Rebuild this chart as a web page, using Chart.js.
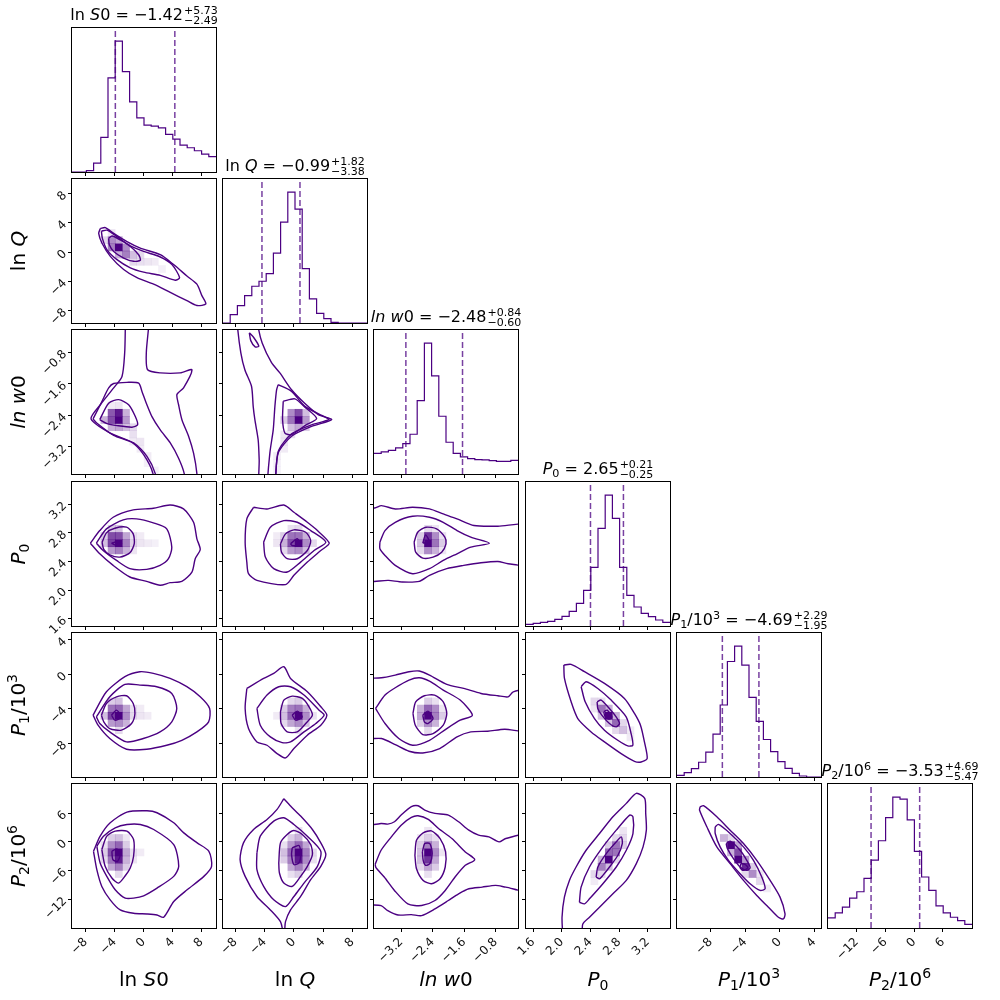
<!DOCTYPE html>
<html>
<head>
<meta charset="utf-8">
<script src="https://cdn.jsdelivr.net/npm/chart.js@4.4.1/dist/chart.umd.min.js"></script>
<style>
html, body { margin: 0; padding: 0; background: #fff; }
#fig { position: relative; width: 1000px; height: 1000px; overflow: hidden; font-family: 'DejaVu Sans', sans-serif; color: #000; }
#fig canvas { position: absolute; }
.ttl { position: absolute; white-space: nowrap; font-size: 16px; line-height: 16px; transform: translateX(-50%); }
.lab { position: absolute; white-space: nowrap; font-size: 20px; line-height: 20px; }
.xlab { transform: translateX(-50%); }
.ylab { transform: translate(-50%, -50%) rotate(-90deg); }
.ttl sub, .ttl sup, .lab sub, .lab sup { font-size: 70%; line-height: 0; vertical-align: baseline; position: relative; }
.ttl sub, .lab sub { top: 0.3em; }
.ttl sup, .lab sup { top: -0.55em; }
.ss { display: inline-block; font-size: 11px; line-height: 10px; vertical-align: baseline; position: relative; top: 4px; margin-left: 1px; }
.ss span { display: block; }
</style>
</head>
<body>
<div id="fig"></div>
<script>
// parameters: ln S0, ln Q, ln w0, P0, P1/1e3, P2/1e6
const varMin = [-9.9, -9.7, -3.89, 1.5, -11.9, -18.0];
const varMax = [10.0, 10.0, -0.23, 3.51, 4.8, 12.1];
const tickVals = [
  [-8, -4, 0, 4, 8],
  [-8, -4, 0, 4, 8],
  [-3.2, -2.4, -1.6, -0.8],
  [1.6, 2.0, 2.4, 2.8, 3.2],
  [-8, -4, 0, 4],
  [-12, -6, 0, 6]
];
const tickDec = [0, 0, 1, 1, 0, 0];
const labelHtml = ['ln <i>S</i>0', 'ln <i>Q</i>', '<i>ln w</i>0', '<i>P</i><sub>0</sub>',
  '<i>P</i><sub>1</sub>/10<sup>3</sup>', '<i>P</i><sub>2</sub>/10<sup>6</sup>'];

const medians = [-1.42, -0.99, -2.48, 2.65, -4.69, -3.53];
const errUp = [5.73, 1.82, 0.84, 0.21, 2.29, 4.69];
const errDown = [2.49, 3.38, 0.60, 0.25, 1.95, 5.47];

// 1D histograms, 20 bins over each axis range
const hist_S0 = [0, 0, 4, 27, 104, 283, 394, 302, 211, 163, 141, 138, 133, 113, 99, 81, 73, 64, 54, 46];
const hist_Q = [0, 25, 52, 82, 110, 125, 148, 209, 302, 392, 341, 163, 72, 29, 13, 2, 0, 0, 0, 0];
const hist_w0 = [62, 66, 71, 78, 91, 119, 220, 392, 294, 173, 95, 62, 51, 46, 43, 42, 40, 38, 38, 41];
const hist_P0 = [5, 8, 11, 14, 20, 29, 44, 68, 107, 176, 293, 393, 323, 176, 92, 57, 38, 28, 18, 11];
const hist_P1 = [5, 13, 25, 44, 74, 128, 215, 345, 391, 334, 238, 166, 112, 76, 46, 26, 11, 3, 0, 0];
const hist_P2 = [30, 45, 62, 89, 108, 148, 202, 260, 329, 390, 384, 322, 228, 152, 112, 66, 45, 32, 22, 11];

// 2D density cells [xbin, ybin, level] and contour outlines [[x, y], ...]
const cells_10 = [[6,10,1],[5,10,0.5],[5,11,0.45],[6,11,0.35],[7,10,0.45],[7,9,0.5],[6,9,0.3],[8,9,0.25],[9,9,0.15],[8,8,0.15],[9,8,0.12],[10,8,0.1],[11,8,0.08],[12,7,0.06],[4,11,0.15],[5,12,0.1]];
const cont_10 = [
  [[-5.98,3.23],[-5.29,3.36],[-4.14,2.56],[-2.30,1.43],[-0.46,0.54],[2.30,-0.36],[4.14,-1.70],[5.98,-3.27],[7.36,-4.39],[8.05,-5.96],[8.60,-7.09],[7.36,-7.31],[5.98,-6.64],[3.68,-5.52],[1.38,-4.39],[-0.92,-3.50],[-2.76,-2.38],[-4.60,-0.58],[-5.75,1.21],[-6.21,2.56]],
  [[-5.84,2.87],[-5.06,3.00],[-3.68,2.11],[-1.84,0.85],[0,0.09],[2.30,-0.67],[3.91,-1.70],[4.97,-3.50],[4.37,-3.86],[2.30,-3.18],[0,-2.74],[-1.84,-2.15],[-3.68,-1.03],[-5.06,0.31],[-5.70,1.88]],
  [[-4.83,1.88],[-4.37,2.20],[-3.22,1.66],[-1.84,0.76],[-0.69,-0.36],[-0.46,-1.12],[-1.38,-1.26],[-2.76,-0.81],[-4.14,0.09],[-4.74,0.99]]
];

const cells_20 = [[6,7,1],[6,8,0.9],[5,7,0.7],[5,8,0.65],[7,7,0.4],[7,8,0.3],[4,7,0.3],[6,6,0.35],[5,6,0.3],[7,6,0.25],[8,6,0.15],[8,5,0.12],[9,4,0.1],[9,3,0.08],[10,2,0.08],[10,1,0.06],[11,0,0.06],[8,4,0.08],[6,9,0.1],[5,9,0.08]];
const cont_20 = [
  [[-2.53,0.1],[-2.53,-0.14],[-2.62,-0.81],[-2.99,-1.41],[-4.14,-1.70],[-5.98,-2.13],[-7.26,-2.49],[-4.60,-2.85],[-1.38,-3.10],[0.46,-3.44],[1.61,-3.88],[1.8,-4.3],[7.4,-4.3],[7.36,-3.88],[6.90,-3.36],[6.21,-2.93],[5.29,-2.51],[4.83,-2.13],[4.60,-1.87],[5.52,-1.70],[6.67,-1.24],[5.06,-1.32],[2.30,-1.32],[0.55,-1.24],[0.37,-0.81],[0.69,-0.14],[0.69,0.1]],
  [[-6.99,-2.49],[-5.75,-2.04],[-4.83,-1.70],[-4.14,-1.59],[-2.30,-1.56],[-0.69,-1.58],[-0.23,-1.79],[0.37,-2.09],[1.15,-2.43],[2.30,-2.77],[3.68,-3.10],[4.83,-3.49],[5.61,-3.88],[5.8,-4.3],[1.3,-4.3],[1.29,-3.88],[0,-3.40],[-1.61,-3.09],[-4.14,-2.91],[-6.44,-2.60]],
  [[-6.07,-2.51],[-4.83,-2.09],[-3.45,-2.00],[-2.07,-2.13],[-1.15,-2.43],[-0.83,-2.64],[-1.61,-2.70],[-3.68,-2.66],[-5.06,-2.61]]
];

const cells_21 = [[10,7,1],[10,8,0.7],[9,7,0.55],[9,8,0.45],[11,7,0.4],[10,6,0.35],[9,6,0.25],[11,8,0.25],[11,6,0.2],[8,7,0.2],[9,5,0.12],[8,5,0.1],[8,4,0.1],[8,3,0.08],[7,2,0.08],[7,1,0.06],[7,0,0.06]];
const cont_21 = [
  [[-7.72,0.1],[-7.72,-0.14],[-7.26,-0.81],[-6.71,-1.24],[-5.80,-1.66],[-5.57,-2.17],[-5.34,-2.51],[-4.89,-3.02],[-4.75,-3.53],[-4.66,-4.3],[-2.83,-4.3],[-2.15,-3.36],[-0.32,-2.93],[2.42,-2.68],[5.16,-2.51],[3.33,-2.38],[1.51,-2.10],[-0.32,-1.75],[-1.92,-1.32],[-3.06,-1.06],[-4.34,-0.56],[-4.89,-0.14],[-4.89,0.1]],
  [[-2.15,-1.62],[-0.32,-1.79],[1.51,-2.17],[4.25,-2.44],[4.79,-2.51],[2.42,-2.64],[-0.32,-2.87],[-2.15,-3.32],[-2.70,-4.3],[-3.60,-4.3],[-3.29,-3.36],[-2.83,-2.77],[-2.60,-2.17],[-2.37,-1.75]],
  [[-1.46,-2.04],[0.14,-1.98],[1.51,-2.19],[3.11,-2.48],[1.51,-2.66],[-0.32,-2.89],[-1.23,-2.85],[-1.55,-2.51]],
  [[-6.1,-0.30],[-5.5,-0.42],[-4.8,-0.64],[-5.3,-0.66],[-5.9,-0.50]]
];

const cells_30 = [[6,11,1],[5,11,0.75],[5,12,0.7],[6,12,0.7],[7,11,0.5],[7,12,0.35],[6,10,0.5],[5,10,0.4],[7,10,0.3],[4,11,0.25],[4,12,0.2],[6,13,0.25],[5,13,0.2],[8,11,0.18],[8,12,0.12],[9,11,0.1],[10,11,0.08],[8,10,0.1],[9,12,0.08],[11,11,0.06]];
const cont_30 = [
  [[-7.36,2.656],[-6.06,2.832],[-4.21,3.018],[-1.44,3.12],[1.34,3.143],[3.66,3.189],[5.51,3.134],[6.90,2.948],[7.36,2.717],[7.82,2.568],[7.13,2.439],[6.67,2.253],[5.28,2.123],[3.66,2.105],[2.27,2.068],[0.42,2.123],[-1.90,2.184],[-4.21,2.346],[-6.06,2.508]],
  [[-6.53,2.656],[-5.14,2.856],[-2.82,2.981],[-0.97,2.995],[1.34,2.939],[3.19,2.856],[3.89,2.60],[3.43,2.439],[2.27,2.346],[0.42,2.29],[-1.90,2.30],[-3.75,2.415],[-5.60,2.554]],
  [[-5.74,2.67],[-5.14,2.80],[-3.98,2.865],[-2.36,2.879],[-1.44,2.786],[-1.30,2.647],[-1.90,2.522],[-3.29,2.462],[-4.68,2.494],[-5.51,2.568]],
  [[-4.44,2.656],[-3.52,2.68],[-3.06,2.647],[-3.98,2.633]]
];

const cells_31 = [[10,11,1],[9,11,0.7],[9,12,0.55],[10,12,0.55],[11,11,0.45],[9,10,0.4],[10,10,0.45],[11,12,0.3],[8,11,0.3],[8,12,0.2],[11,10,0.25],[8,10,0.15],[12,11,0.15],[10,13,0.15],[9,13,0.12],[7,11,0.1],[7,12,0.08]];
const cont_31 = [
  [[-5.52,3.157],[-3.68,3.134],[-1.38,3.189],[0,3.087],[1.84,2.948],[3.22,2.832],[4.83,2.656],[3.68,2.554],[1.84,2.392],[0,2.207],[-1.15,2.077],[-5.06,2.137],[-6.21,2.230],[-6.44,2.392],[-6.67,2.670],[-6.44,2.995]],
  [[-4.14,2.670],[-3.22,2.879],[-1.38,2.971],[0.46,2.948],[2.30,2.832],[4.37,2.670],[2.76,2.554],[0.92,2.392],[-0.92,2.253],[-2.76,2.30],[-3.91,2.462]],
  [[-1.84,2.647],[-1.15,2.786],[0,2.842],[1.61,2.809],[2.30,2.693],[1.84,2.554],[0.46,2.439],[-0.92,2.439],[-1.70,2.531]],
  [[-0.46,2.647],[0.46,2.717],[0.92,2.624],[-0.23,2.624]]
];

const cells_32 = [[7,11,1],[7,12,0.8],[8,11,0.55],[8,12,0.45],[7,10,0.45],[8,10,0.3],[6,11,0.25],[6,12,0.2],[9,11,0.2],[9,12,0.12],[7,13,0.15],[6,10,0.15],[9,10,0.1],[8,13,0.1]];
const cont_32 = [
  [[-4.2,3.15],[-3.87,3.148],[-3.70,3.18],[-3.35,3.134],[-2.91,3.157],[-2.48,3.134],[-2.13,3.064],[-1.78,2.995],[-1.35,2.902],[-0.74,2.893],[0.1,2.902],[0.1,2.36],[-0.48,2.369],[-0.74,2.401],[-1.17,2.383],[-1.61,2.346],[-2.04,2.30],[-2.48,2.207],[-2.74,2.123],[-3.17,2.114],[-3.52,2.137],[-4.2,2.151]],
  [[-3.74,2.670],[-3.61,2.832],[-3.35,2.948],[-2.91,3.032],[-2.48,3.018],[-2.13,2.948],[-1.78,2.832],[-1.43,2.74],[-0.96,2.656],[-1.43,2.60],[-1.78,2.508],[-2.13,2.415],[-2.48,2.30],[-2.91,2.23],[-3.35,2.346],[-3.61,2.485],[-3.74,2.578]],
  [[-2.87,2.670],[-2.78,2.809],[-2.57,2.879],[-2.30,2.856],[-2.09,2.74],[-2.06,2.647],[-2.17,2.531],[-2.39,2.462],[-2.65,2.448],[-2.83,2.531]],
  [[-2.65,2.656],[-2.58,2.772],[-2.48,2.670]]
];

const cells_40 = [[6,8,1],[5,8,0.75],[6,9,0.6],[5,9,0.55],[7,8,0.45],[6,7,0.45],[5,7,0.4],[7,9,0.35],[7,7,0.3],[4,8,0.25],[6,10,0.25],[5,10,0.2],[8,8,0.15],[8,9,0.12],[6,6,0.15],[9,8,0.1],[10,8,0.08],[9,9,0.08]];
const cont_40 = [
  [[-6.99,-4.73],[-5.14,-2.02],[-2.59,-0.27],[-0.51,0.31],[1.34,0.12],[3.66,-0.47],[5.97,-1.43],[7.82,-2.60],[9.12,-3.95],[8.98,-5.50],[7.36,-6.67],[5.28,-7.64],[3.19,-8.22],[0.42,-8.68],[-2.36,-8.68],[-4.68,-7.44],[-6.30,-5.89]],
  [[-6.53,-4.92],[-4.68,-2.60],[-2.59,-1.16],[-0.51,-1.24],[1.81,-1.43],[3.89,-2.21],[4.58,-3.95],[3.89,-5.50],[2.27,-6.67],[-0.05,-7.44],[-2.36,-7.83],[-4.68,-6.67],[-6.06,-5.70]],
  [[-5.83,-4.73],[-5.14,-3.37],[-3.75,-2.60],[-2.36,-2.48],[-1.44,-3.37],[-1.20,-4.53],[-1.67,-5.70],[-3.06,-6.47],[-4.68,-6.28],[-5.51,-5.50]],
  [[-4.44,-4.73],[-3.75,-4.15],[-3.06,-4.92],[-3.98,-5.31]]
];

const cells_41 = [[10,8,1],[9,8,0.6],[10,9,0.55],[9,9,0.5],[11,8,0.45],[10,7,0.45],[9,7,0.35],[11,9,0.3],[11,7,0.25],[8,8,0.25],[8,9,0.2],[10,10,0.2],[9,10,0.15],[8,7,0.15],[12,8,0.12],[10,6,0.12],[7,8,0.08]];
const cont_41 = [
  [[-6.44,-1.63],[-4.14,-0.47],[-2.76,0.12],[-1.38,0.89],[-0.46,-0.47],[1.84,-2.02],[3.68,-3.76],[4.51,-4.73],[3.68,-5.89],[1.84,-7.05],[0,-8.60],[-1.15,-9.69],[-2.30,-9.19],[-3.68,-8.22],[-5.06,-7.83],[-6.21,-6.28],[-6.67,-3.95]],
  [[-5.06,-3.95],[-3.68,-2.40],[-2.07,-1.43],[-0.46,-1.43],[1.38,-2.40],[3.45,-4.15],[4.14,-4.73],[2.99,-5.70],[1.38,-6.67],[-0.46,-7.83],[-1.61,-7.91],[-3.22,-7.25],[-4.60,-5.89]],
  [[-1.84,-4.34],[-1.38,-2.98],[-0.23,-2.52],[1.15,-2.79],[2.07,-3.76],[2.53,-4.73],[1.61,-5.70],[0.46,-6.67],[-0.92,-6.67],[-1.75,-5.70]],
  [[-0.23,-4.73],[0.46,-4.26],[1.15,-4.92],[0.23,-5.31]]
];

const cells_42 = [[7,8,1],[7,9,0.6],[8,8,0.5],[8,9,0.45],[7,7,0.45],[6,8,0.35],[8,7,0.3],[6,9,0.3],[7,10,0.2],[9,8,0.2],[6,7,0.2],[8,10,0.12],[7,6,0.15],[9,9,0.1]];
const cont_42 = [
  [[-4.2,-0.47],[-3.70,-0.39],[-3.35,-0.08],[-3.0,0.31],[-2.74,0.39],[-2.48,-0.08],[-2.04,-1.16],[-1.61,-1.63],[-1.17,-2.21],[-0.74,-2.48],[-0.48,-2.60],[-0.35,-2.02],[0.1,-1.82],[0.1,-6.47],[-0.57,-6.36],[-1.0,-6.59],[-1.43,-6.67],[-1.78,-7.25],[-2.22,-8.60],[-2.65,-9.11],[-3.0,-8.91],[-3.35,-8.14],[-3.70,-7.44],[-4.2,-7.25]],
  [[-3.85,-3.95],[-3.61,-2.40],[-3.35,-1.55],[-3.0,-0.66],[-2.74,-0.39],[-2.48,-0.78],[-2.13,-1.82],[-1.70,-2.98],[-1.39,-4.73],[-1.70,-5.31],[-2.04,-6.28],[-2.48,-7.64],[-2.91,-8.22],[-3.26,-7.44],[-3.61,-5.70]],
  [[-2.90,-4.53],[-2.83,-3.18],[-2.61,-2.48],[-2.35,-2.40],[-2.13,-3.18],[-2.04,-4.53],[-2.13,-5.89],[-2.39,-6.86],[-2.65,-6.98],[-2.84,-5.89]],
  [[-2.65,-4.73],[-2.52,-4.26],[-2.39,-5.12],[-2.52,-5.70],[-2.61,-5.50]]
];

const cells_43 = [[11,8,1],[10,9,0.55],[12,7,0.6],[11,9,0.3],[12,8,0.3],[10,8,0.25],[11,7,0.25],[13,6,0.25],[13,7,0.15],[12,6,0.15],[9,10,0.15],[10,10,0.12],[9,9,0.1],[14,5,0.08],[14,6,0.08]];
const cont_43 = [
  [[2.028,1.09],[2.130,1.16],[2.316,0.31],[2.595,-1.05],[2.874,-2.79],[3.014,-4.53],[3.098,-5.89],[3.153,-7.83],[3.191,-9.77],[3.107,-10.16],[3.014,-10.08],[2.828,-9.19],[2.595,-7.83],[2.409,-6.67],[2.223,-5.12],[2.130,-3.18],[2.037,-0.47]],
  [[2.270,-1.43],[2.340,-0.85],[2.502,-1.63],[2.688,-2.98],[2.898,-4.92],[2.967,-6.86],[2.991,-8.22],[2.921,-8.29],[2.781,-7.64],[2.595,-6.47],[2.456,-5.12],[2.326,-3.18]],
  [[2.493,-3.18],[2.549,-2.98],[2.642,-3.76],[2.758,-4.92],[2.805,-5.70],[2.758,-6.09],[2.665,-5.70],[2.558,-4.73],[2.502,-3.95]],
  [[2.586,-4.34],[2.633,-4.15],[2.698,-4.92],[2.665,-5.19],[2.605,-4.92]]
];

const cells_50 = [[6,10,1],[6,9,0.9],[6,11,0.6],[5,10,0.7],[5,9,0.55],[5,11,0.45],[6,8,0.5],[5,8,0.35],[7,10,0.35],[7,9,0.3],[4,10,0.2],[7,11,0.2],[6,12,0.25],[5,12,0.2],[7,8,0.2],[6,7,0.15],[4,9,0.15],[8,10,0.12],[8,9,0.1],[9,10,0.08],[4,11,0.12],[7,12,0.1]];
const cont_50 = [
  [[-6.93,-1.96],[-6.01,1.19],[-4.62,3.99],[-2.31,6.23],[0.46,6.51],[1.85,6.09],[4.16,3.99],[5.55,1.89],[7.40,-0.21],[9.02,-1.96],[9.39,-5.11],[8.32,-7.21],[6.01,-10.01],[4.16,-12.46],[2.77,-15.76],[1.85,-15.27],[0.46,-15.06],[-1.39,-14.92],[-3.24,-14.22],[-4.62,-12.11],[-5.78,-9.31],[-6.47,-5.81]],
  [[-6.47,-0.91],[-5.55,1.19],[-3.93,2.94],[-2.31,3.64],[-0.46,3.64],[1.39,2.59],[4.16,-0.56],[4.85,-5.11],[4.16,-7.21],[1.85,-9.66],[0,-11.27],[-1.39,-11.76],[-2.54,-11.76],[-3.93,-10.01],[-5.09,-7.21],[-6.01,-4.41]],
  [[-5.78,-1.61],[-5.09,1.19],[-3.93,2.24],[-2.31,2.24],[-1.39,0.49],[-1.39,-3.01],[-1.85,-5.46],[-2.54,-7.07],[-3.47,-8.61],[-4.39,-7.56],[-5.32,-5.11]],
  [[-4.39,-1.96],[-3.70,-1.47],[-3.24,-2.66],[-3.61,-4.06],[-4.25,-3.71]]
];

const cells_51 = [[10,10,1],[10,9,0.9],[10,11,0.6],[9,10,0.6],[9,9,0.5],[11,10,0.5],[11,9,0.45],[9,11,0.4],[11,11,0.35],[10,8,0.5],[9,8,0.35],[11,8,0.3],[10,12,0.3],[9,12,0.2],[8,10,0.25],[8,9,0.2],[12,10,0.15],[10,7,0.2],[8,11,0.12],[10,13,0.12],[12,9,0.12],[9,7,0.12]];
const cont_51 = [
  [[-1.38,9.03],[-0.46,7.49],[0.92,5.39],[2.53,2.59],[3.68,-0.21],[4.37,-2.66],[3.68,-5.11],[2.30,-7.91],[0.92,-11.41],[-0.46,-14.22],[-1.15,-16.67],[-1.29,-18.8],[-1.47,-18.8],[-1.84,-16.67],[-3.22,-14.22],[-5.06,-11.41],[-6.67,-7.21],[-7.36,-3.71],[-6.90,-0.21],[-5.52,2.59],[-3.68,4.69],[-2.30,6.79]],
  [[-5.06,-2.31],[-4.60,1.19],[-2.76,4.34],[-1.38,5.04],[0,3.64],[1.84,1.19],[3.68,-1.96],[3.22,-5.11],[1.38,-8.61],[0,-11.41],[-1.15,-13.52],[-2.76,-12.11],[-4.14,-9.31],[-5.06,-5.81]],
  [[-2.07,-4.41],[-1.84,-0.21],[-0.92,1.54],[0,2.38],[1.15,1.54],[2.30,-0.56],[2.53,-2.66],[1.84,-5.11],[0.92,-7.21],[-0.23,-9.31],[-1.38,-8.61],[-1.98,-6.51]],
  [[-0.23,-1.26],[0.69,-0.77],[0.92,-2.66],[0.69,-4.41],[0,-4.76],[-0.32,-2.66]]
];

const cells_52 = [[7,10,1],[7,9,0.8],[7,11,0.5],[8,10,0.45],[8,11,0.3],[8,9,0.35],[7,8,0.35],[6,10,0.25],[6,9,0.25],[8,8,0.2],[6,11,0.2],[7,12,0.2],[6,8,0.15],[7,7,0.12],[8,12,0.12],[9,10,0.1],[6,12,0.1],[7,13,0.1]];
const cont_52 = [
  [[-4.2,3.15],[-3.71,3.85],[-3.54,3.71],[-3.37,4.20],[-3.20,5.60],[-2.94,7.35],[-2.77,7.56],[-2.60,6.65],[-2.34,5.95],[-2.0,5.60],[-1.74,4.20],[-1.48,2.45],[-1.23,1.40],[-0.97,1.05],[-0.71,0],[-0.54,0.70],[0.1,1.40],[0.1,-10.15],[-0.54,-9.45],[-0.80,-9.10],[-1.14,-9.45],[-1.48,-9.80],[-1.74,-10.85],[-2.0,-12.25],[-2.34,-14.01],[-2.68,-15.41],[-2.94,-15.20],[-3.28,-15.27],[-3.54,-14.36],[-3.71,-13.31],[-4.2,-12.61]],
  [[-3.86,-4.7],[-3.71,-1.75],[-3.45,1.05],[-3.20,3.50],[-2.94,5.11],[-2.77,5.46],[-2.51,4.69],[-2.25,2.80],[-1.91,0.70],[-1.57,-2.10],[-1.33,-3.71],[-1.57,-4.90],[-1.83,-7.35],[-2.08,-10.15],[-2.34,-12.25],[-2.68,-13.31],[-3.03,-12.96],[-3.37,-10.15],[-3.63,-7.35],[-3.84,-5.39]],
  [[-2.85,-2.80],[-2.81,0.35],[-2.64,1.89],[-2.43,2.31],[-2.21,0.70],[-2.07,-2.10],[-2.08,-5.25],[-2.21,-7.70],[-2.43,-8.75],[-2.64,-8.05],[-2.81,-5.60]],
  [[-2.66,-2.10],[-2.60,-0.35],[-2.47,-0.35],[-2.41,-2.45],[-2.47,-4.55],[-2.58,-4.90],[-2.64,-3.85]]
];

const cells_53 = [[11,9,1],[12,10,0.55],[11,10,0.6],[12,11,0.55],[10,8,0.5],[10,9,0.3],[11,8,0.25],[13,11,0.2],[12,12,0.15],[13,12,0.15],[9,7,0.15],[10,7,0.15],[9,6,0.08],[13,13,0.1],[12,9,0.15],[11,11,0.2]];
const cont_53 = [
  [[2.012,-19.3],[2.003,-15.76],[2.036,-11.55],[2.106,-8.05],[2.199,-5.25],[2.339,-1.75],[2.526,1.75],[2.713,5.25],[2.900,8.05],[3.040,10.15],[3.157,9.10],[3.171,5.95],[3.180,2.45],[3.134,-1.05],[3.040,-4.55],[2.900,-8.05],[2.713,-10.85],[2.526,-13.66],[2.386,-15.76],[2.293,-17.16],[2.269,-19.3]],
  [[2.246,-12.61],[2.269,-9.45],[2.386,-5.25],[2.573,-1.05],[2.760,2.45],[2.947,5.60],[2.993,5.25],[2.993,1.75],[2.900,-1.75],[2.760,-5.25],[2.573,-8.75],[2.386,-11.90],[2.316,-12.96]],
  [[2.479,-7.35],[2.503,-5.25],[2.620,-2.45],[2.760,0],[2.830,1.05],[2.844,-0.35],[2.783,-2.80],[2.666,-5.25],[2.573,-7.0],[2.526,-7.70]]
];

const cells_54 = [[7,11,1],[8,10,0.7],[8,9,1],[9,8,0.85],[9,9,0.4],[8,11,0.35],[10,7,0.45],[7,10,0.3],[6,12,0.3],[7,12,0.15],[10,8,0.2],[11,6,0.15],[9,7,0.15],[11,7,0.1],[12,5,0.08]];
const cont_54 = [
  [[-9.21,7.35],[-8.83,7.56],[-7.28,5.25],[-5.74,2.45],[-4.19,-0.35],[-2.65,-3.85],[-1.10,-8.05],[0.05,-11.55],[0.63,-15.06],[0.44,-16.11],[-0.14,-15.76],[-1.30,-13.66],[-2.65,-11.20],[-4.19,-8.05],[-5.74,-4.55],[-7.28,-1.05],[-8.44,3.15],[-9.29,6.65]],
  [[-7.47,3.15],[-7.09,3.64],[-5.74,1.75],[-4.19,-1.05],[-3.03,-3.85],[-2.07,-7.35],[-1.68,-9.80],[-2.26,-10.15],[-3.42,-8.75],[-4.58,-6.65],[-5.93,-3.85],[-6.90,-1.05],[-7.47,1.75]],
  [[-6.20,-0.35],[-5.74,0.14],[-4.58,-1.75],[-3.81,-3.85],[-3.42,-5.39],[-3.81,-5.95],[-4.58,-5.25],[-5.35,-3.50],[-6.05,-1.40]],
  [[-4.50,-4.55],[-4.0,-4.69],[-3.69,-5.39],[-4.19,-5.95],[-4.58,-5.39]]
];

const histList = [hist_S0, hist_Q, hist_w0, hist_P0, hist_P1, hist_P2];
const panels = [
  [1, 0, cells_10, cont_10],
  [2, 0, cells_20, cont_20], [2, 1, cells_21, cont_21],
  [3, 0, cells_30, cont_30], [3, 1, cells_31, cont_31], [3, 2, cells_32, cont_32],
  [4, 0, cells_40, cont_40], [4, 1, cells_41, cont_41], [4, 2, cells_42, cont_42], [4, 3, cells_43, cont_43],
  [5, 0, cells_50, cont_50], [5, 1, cells_51, cont_51], [5, 2, cells_52, cont_52], [5, 3, cells_53, cont_53], [5, 4, cells_54, cont_54]
];

// layout
const colLeft = [72, 223, 374, 526, 677, 828];
const rowTop = [28, 179, 330, 482, 633, 784];
const SIZE = 144, PAD = 40;
const INDIGO = '#4b0082';
const DASH = 'rgba(75,0,130,0.75)';

Chart.defaults.font.family = "'DejaVu Sans', sans-serif";
const fig = document.getElementById('fig');

function fmtTick(v, d) { return (v < 0 ? '\u2212' : '') + Math.abs(v).toFixed(d); }
function fmtNum(v) { return (v < 0 ? '\u2212' : '') + Math.abs(v).toFixed(2); }

const framePlugin = {
  id: 'frame',
  afterDatasetsDraw(chart) {
    const a = chart.chartArea, ctx = chart.ctx;
    ctx.save();
    ctx.strokeStyle = '#000';
    ctx.lineWidth = 1;
    ctx.strokeRect(a.left - 0.5, a.top - 0.5, a.right - a.left + 1, a.bottom - a.top + 1);
    ctx.restore();
  }
};

// axis boxes get a fixed size so every plot area lands on the same grid
function scaleOpts(v, axis, showLabels) {
  return {
    type: 'linear',
    min: varMin[v], max: varMax[v],
    afterBuildTicks: s => { s.ticks = tickVals[v].map(t => ({ value: t })); },
    afterFit: s => { if (axis === 'x') s.height = PAD; else s.width = PAD; },
    grid: { drawOnChartArea: false, drawTicks: true, tickLength: 4, color: '#000', tickColor: '#000', lineWidth: 1 },
    border: { display: false },
    ticks: {
      display: showLabels, autoSkip: false, minRotation: 45, maxRotation: 45, padding: 3,
      color: '#111', font: { size: 12 },
      callback: val => fmtTick(val, tickDec[v])
    }
  };
}

function makeCanvas(r, c) {
  const cv = document.createElement('canvas');
  cv.width = SIZE + 2 * PAD;
  cv.height = SIZE + 2 * PAD;
  cv.style.left = (colLeft[c] - PAD) + 'px';
  cv.style.top = (rowTop[r] - PAD) + 'px';
  cv.style.width = cv.width + 'px';
  cv.style.height = cv.height + 'px';
  fig.appendChild(cv);
  return cv;
}

const baseOptions = (hasY) => ({
  responsive: false, animation: false, devicePixelRatio: 1, events: [],
  layout: { padding: { top: PAD, right: PAD, bottom: 0, left: hasY ? 0 : PAD } },
  plugins: { legend: { display: false }, tooltip: { enabled: false } }
});

// diagonal histograms
histList.forEach((h, k) => {
  const w = (varMax[k] - varMin[k]) / h.length;
  const pts = h.map((v, i) => ({ x: varMin[k] + i * w, y: v }));
  pts.push({ x: varMax[k], y: h[h.length - 1] });
  const ytop = Math.max(...h) * 1.1;
  const qlo = medians[k] - errDown[k], qhi = medians[k] + errUp[k];
  const dash = q => ({ data: [{ x: q, y: 0 }, { x: q, y: ytop }], showLine: true, borderColor: DASH,
    borderWidth: 1.5, borderDash: [6, 3], pointRadius: 0, order: 0 });
  const opts = baseOptions(false);
  opts.scales = { x: scaleOpts(k, 'x', k === 5), y: { display: false, min: 0, max: ytop } };
  new Chart(makeCanvas(k, k), {
    type: 'scatter',
    data: { datasets: [
      { data: pts, showLine: true, stepped: true, borderColor: INDIGO, borderWidth: 1.2, pointRadius: 0, order: 1 },
      dash(qlo), dash(qhi)
    ] },
    options: opts,
    plugins: [framePlugin]
  });
});

function cellHalf(chart) {
  const s = chart.scales.x;
  return Math.abs(s.getPixelForValue(s.min + (s.max - s.min) / 20) - s.getPixelForValue(s.min)) / 2 + 0.25;
}

// off-diagonal panels
panels.forEach(([r, c, cells, conts]) => {
  const wx = (varMax[c] - varMin[c]) / 20, wy = (varMax[r] - varMin[r]) / 20;
  const cellData = cells.map(([i, j, l]) => ({ x: varMin[c] + (i + 0.5) * wx, y: varMin[r] + (j + 0.5) * wy, l: l }));
  const datasets = conts.map(p => ({
    data: p.concat([p[0]]).map(([x, y]) => ({ x: x, y: y })),
    showLine: true, borderColor: INDIGO, borderWidth: 1.4, pointRadius: 0, tension: 0.25, fill: false, order: 0
  }));
  datasets.push({
    data: cellData, showLine: false, pointStyle: 'rect', order: 5,
    pointRadius: ctx => cellHalf(ctx.chart) * Math.SQRT2,
    pointBorderWidth: 0,
    pointBackgroundColor: ctx => 'rgba(75,0,130,' + (ctx.raw ? ctx.raw.l : 0) + ')'
  });
  const opts = baseOptions(true);
  opts.scales = { x: scaleOpts(c, 'x', r === 5), y: scaleOpts(r, 'y', c === 0) };
  new Chart(makeCanvas(r, c), { type: 'scatter', data: { datasets: datasets }, options: opts, plugins: [framePlugin] });
});

// titles, axis labels
for (let k = 0; k < 6; k++) {
  const t = document.createElement('div');
  t.className = 'ttl';
  t.innerHTML = labelHtml[k] + ' = ' + fmtNum(medians[k]) +
    '<span class="ss"><span>+' + errUp[k].toFixed(2) + '</span><span>\u2212' + errDown[k].toFixed(2) + '</span></span>';
  t.style.left = (colLeft[k] + SIZE / 2) + 'px';
  t.style.bottom = (1000 - (rowTop[k] - 7.5) - 2.5) + 'px';
  fig.appendChild(t);

  const xl = document.createElement('div');
  xl.className = 'lab xlab';
  xl.innerHTML = labelHtml[k];
  xl.style.left = (colLeft[k] + SIZE / 2) + 'px';
  xl.style.bottom = '11px';
  fig.appendChild(xl);

  if (k > 0) {
    const yl = document.createElement('div');
    yl.className = 'lab ylab';
    yl.innerHTML = labelHtml[k];
    yl.style.left = '18px';
    yl.style.top = (rowTop[k] + SIZE / 2) + 'px';
    fig.appendChild(yl);
  }
}
</script>
</body>
</html>
